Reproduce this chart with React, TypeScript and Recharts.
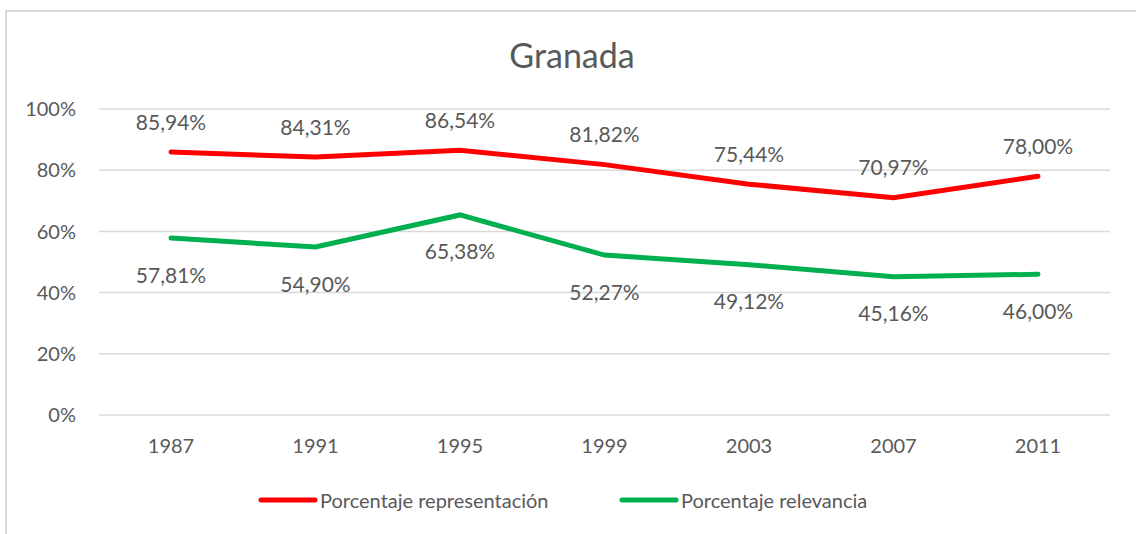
import { LineChart, Line, XAxis, YAxis, CartesianGrid, LabelList } from 'recharts'

const years = ['1987', '1991', '1995', '1999', '2003', '2007', '2011']
const representacion = [85.94, 84.31, 86.54, 81.82, 75.44, 70.97, 78.0]
const relevancia = [57.81, 54.9, 65.38, 52.27, 49.12, 45.16, 46.0]
const yTicks = [0, 20, 40, 60, 80, 100]

const series = [
  { key: 'representacion', name: 'Porcentaje representación', color: '#FF0000' },
  { key: 'relevancia', name: 'Porcentaje relevancia', color: '#00B050' },
]

const data = years.map((year, i) => ({
  year,
  representacion: representacion[i],
  relevancia: relevancia[i],
}))

const FONT = 'Lato, "Open Sans", sans-serif'
const TEXT = '#595959'

const fmt = (v: number) => v.toFixed(2).replace('.', ',') + '%'

// value label placed above (dy < 0) or below (dy > 0) the point
const makeLabel = (dy: number) => (props: any) => {
  const { x, y, value } = props
  return (
    <text
      x={x}
      y={y + dy}
      textAnchor="middle"
      dominantBaseline="central"
      fill={TEXT}
      fontSize={21}
      fontFamily={FONT}
    >
      {fmt(Number(value))}
    </text>
  )
}

// legend drawn by hand so it doesn't eat into the plot height
const ChartLegend = () => (
  <svg width={1136} height={30} style={{ position: 'absolute', left: 0, top: 485 }}>
    <line x1={261} x2={315} y1={15} y2={15} stroke={series[0].color} strokeWidth={5} strokeLinecap="round" />
    <text x={320} y={15} dominantBaseline="central" fill={TEXT} fontSize={20} fontFamily={FONT}>
      {series[0].name}
    </text>
    <line x1={622} x2={676} y1={15} y2={15} stroke={series[1].color} strokeWidth={5} strokeLinecap="round" />
    <text x={681} y={15} dominantBaseline="central" fill={TEXT} fontSize={20} fontFamily={FONT}>
      {series[1].name}
    </text>
  </svg>
)

export default function App() {
  return (
    <div style={{ position: 'fixed', left: 0, top: 0, width: 1136, height: 534, background: '#fff', overflow: 'hidden' }}>
      <div
        style={{
          position: 'absolute',
          top: 34,
          left: 0,
          width: 1144,
          textAlign: 'center',
          fontFamily: FONT,
          fontSize: 34,
          color: TEXT,
          lineHeight: '42px',
        }}
      >
        Granada
      </div>
      <div style={{ position: 'absolute', left: 0, top: 0 }}>
        <LineChart width={1136} height={534} data={data} margin={{ top: 109, right: 26, bottom: 89, left: 0 }}>
          <CartesianGrid vertical={false} stroke="#d9d9d9" strokeWidth={1.5} />
          <XAxis
            dataKey="year"
            height={30}
            axisLine={false}
            tickLine={false}
            padding={{ left: 72, right: 72 }}
            tickMargin={18}
            tick={{ fill: TEXT, fontSize: 20, fontFamily: FONT }}
          />
          <YAxis
            width={99}
            domain={[0, 100]}
            ticks={yTicks}
            axisLine={false}
            tickLine={false}
            tickMargin={17}
            tickFormatter={(v: number) => v + '%'}
            tick={{ fill: TEXT, fontSize: 20, fontFamily: FONT }}
          />
          <Line
            dataKey="representacion"
            name={series[0].name}
            stroke={series[0].color}
            strokeWidth={5}
            strokeLinecap="round"
            dot={false}
            type="linear"
            isAnimationActive={false}
          >
            <LabelList dataKey="representacion" content={makeLabel(-31)} />
          </Line>
          <Line
            dataKey="relevancia"
            name={series[1].name}
            stroke={series[1].color}
            strokeWidth={5}
            strokeLinecap="round"
            dot={false}
            type="linear"
            isAnimationActive={false}
          >
            <LabelList dataKey="relevancia" content={makeLabel(36)} />
          </Line>
        </LineChart>
      </div>
      <ChartLegend />
      <div
        style={{
          position: 'absolute',
          left: 5,
          top: 10,
          width: 1140,
          height: 540,
          border: '2px solid #d9d9d9',
          boxSizing: 'border-box',
          pointerEvents: 'none',
        }}
      />
    </div>
  )
}
